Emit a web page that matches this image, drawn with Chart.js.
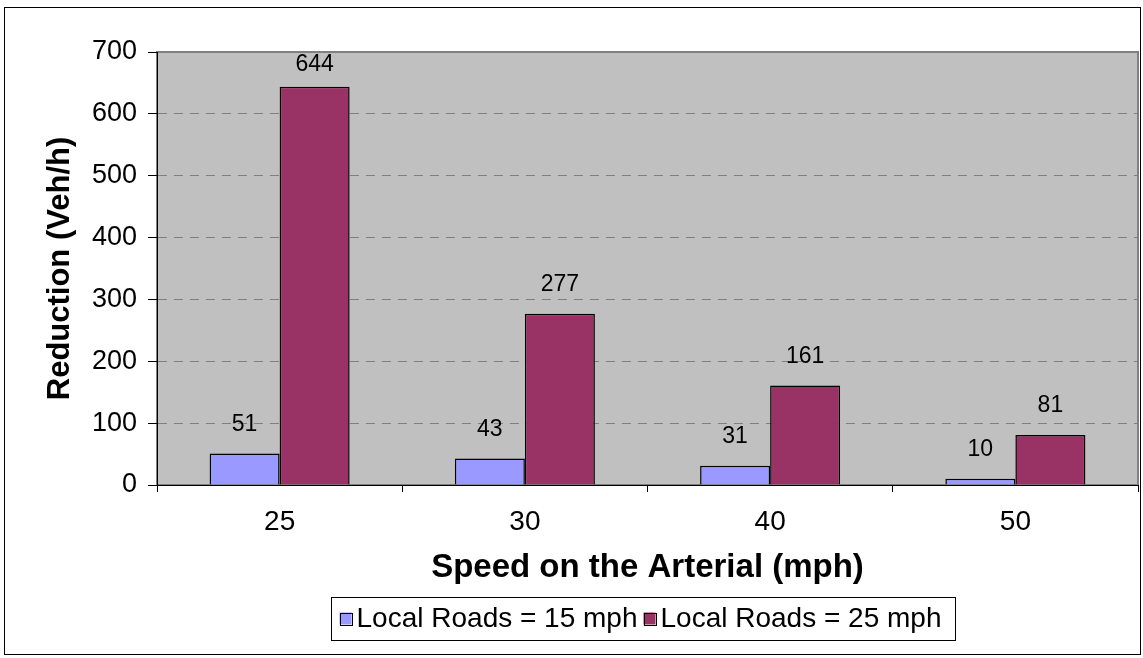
<!DOCTYPE html>
<html>
<head>
<meta charset="utf-8">
<title>Reduction vs Speed on the Arterial</title>
<script src="https://cdn.jsdelivr.net/npm/chart.js@4.4.1/dist/chart.umd.min.js"></script>
<style>
  body { margin: 0; background: #fff; }
</style>
</head>
<body>
<canvas id="reductionChart" width="1143" height="658"></canvas>
<script>
const speeds = ['25', '30', '40', '50'];
const local15 = [51, 43, 31, 10];
const local25 = [644, 277, 161, 81];
const seriesNames = ['Local Roads = 15 mph', 'Local Roads = 25 mph'];
const seriesColors = ['#9999ff', '#993366'];

const FONT = "'Liberation Sans', Arial, sans-serif";

// white page, outer frame and the gray plot area (Excel look)
const framePlugin = {
    id: 'frame',
    beforeDraw(chart) {
        const ctx = chart.ctx;
        const a = chart.chartArea;
        ctx.save();
        ctx.fillStyle = '#fff';
        ctx.fillRect(0, 0, chart.width, chart.height);
        ctx.strokeStyle = '#000';
        ctx.lineWidth = 1;
        ctx.strokeRect(4.5, 7.5, chart.width - 7, chart.height - 11);
        ctx.fillStyle = '#c0c0c0';
        ctx.fillRect(a.left, a.top, a.right - a.left, a.bottom - a.top);
        ctx.strokeStyle = '#808080';
        ctx.lineWidth = 2;
        ctx.strokeRect(a.left, a.top, a.right - a.left, a.bottom - a.top);
        ctx.restore();
    }
};

// numbers above each bar
const valueLabels = {
    id: 'valueLabels',
    afterDatasetsDraw(chart) {
        const ctx = chart.ctx;
        ctx.save();
        ctx.font = '23px ' + FONT;
        ctx.fillStyle = '#000';
        ctx.textAlign = 'center';
        ctx.textBaseline = 'middle';
        chart.data.datasets.forEach(function (ds, i) {
            chart.getDatasetMeta(i).data.forEach(function (bar, j) {
                var y = Math.max(bar.y - 29, chart.chartArea.top + 13);
                ctx.fillText(ds.data[j], bar.x, y);
            });
        });
        ctx.restore();
    }
};

// boxed legend under the x axis title
const boxLegend = {
    id: 'boxLegend',
    afterDraw(chart) {
        const ctx = chart.ctx;
        const a = chart.chartArea;
        ctx.save();
        ctx.font = '28px ' + FONT;
        ctx.textBaseline = 'middle';
        var widths = chart.data.datasets.map(function (ds) { return ctx.measureText(ds.label).width; });
        var inner = 0;
        widths.forEach(function (w, i) { inner += 12 + 5 + w + (i > 0 ? 6 : 0); });
        var boxW = inner + 22;
        var left = (a.left + a.right) / 2 - 5 - boxW / 2;
        var top = 597, h = 43;
        ctx.fillStyle = '#fff';
        ctx.fillRect(left, top, boxW, h);
        ctx.strokeStyle = '#000';
        ctx.lineWidth = 1;
        ctx.strokeRect(Math.round(left) + 0.5, top + 0.5, Math.round(boxW), h);
        var x = left + 9;
        var cy = top + h / 2;
        chart.data.datasets.forEach(function (ds, i) {
            ctx.fillStyle = ds.backgroundColor;
            ctx.fillRect(x, cy - 6, 12, 12);
            ctx.strokeRect(Math.round(x) + 0.5, Math.round(cy - 6) + 0.5, 12, 12);
            ctx.fillStyle = '#000';
            ctx.fillText(ds.label, x + 17, cy + 1);
            x += 12 + 5 + widths[i] + 6;
        });
        ctx.restore();
    }
};

new Chart(document.getElementById('reductionChart'), {
    type: 'bar',
    data: {
        labels: speeds,
        datasets: [
            {
                label: seriesNames[0],
                data: local15,
                backgroundColor: seriesColors[0],
                borderColor: '#000',
                borderWidth: 1.5,
                categoryPercentage: 0.571,
                barPercentage: 1.0
            },
            {
                label: seriesNames[1],
                data: local25,
                backgroundColor: seriesColors[1],
                borderColor: '#000',
                borderWidth: 1.5,
                categoryPercentage: 0.571,
                barPercentage: 1.0
            }
        ]
    },
    options: {
        responsive: false,
        animation: false,
        layout: { padding: { left: 20, top: 52, right: 5, bottom: 70 } },
        plugins: {
            legend: { display: false },
            tooltip: { enabled: false }
        },
        scales: {
            x: {
                afterFit: function (scale) { scale.height = 103; },
                grid: {
                    offset: true,
                    drawOnChartArea: false,
                    tickLength: 7,
                    tickColor: '#000'
                },
                border: { color: '#000', width: 1 },
                ticks: { color: '#000', padding: 13, font: { family: FONT, size: 28 } },
                title: {
                    display: true,
                    text: 'Speed on the Arterial (mph)',
                    color: '#000',
                    padding: { top: 0, bottom: 0 },
                    font: { family: FONT, size: 33, weight: 'bold' }
                }
            },
            y: {
                min: 0,
                max: 700,
                afterFit: function (scale) { scale.width = 137; },
                grid: {
                    color: function (c) {
                        return (c.tick.value === 0 || c.tick.value === 700) ? 'rgba(0,0,0,0)' : '#808080';
                    },
                    tickLength: 9,
                    tickColor: '#000',
                    tickBorderDash: []
                },
                border: { color: '#000', width: 1, dash: [9, 7] },
                ticks: { stepSize: 100, color: '#000', padding: 11, font: { family: FONT, size: 27 } },
                title: {
                    display: true,
                    text: 'Reduction (Veh/h)',
                    color: '#000',
                    padding: { top: 22, bottom: 0 },
                    font: { family: FONT, size: 31, weight: 'bold' }
                }
            }
        }
    },
    plugins: [framePlugin, valueLabels, boxLegend]
});
</script>
</body>
</html>
